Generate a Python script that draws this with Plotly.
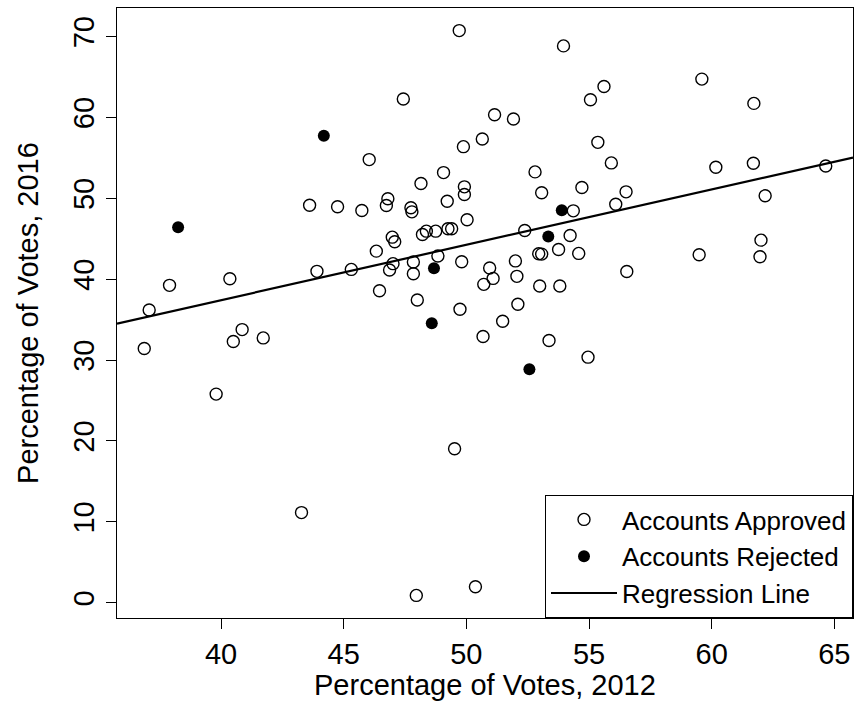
import plotly.graph_objects as go

# Vote shares by county: 2012 vs 2016
approved_2012 = [
    43.61, 44.75, 45.74, 49.71, 53.96, 47.43, 55.61, 55.06, 51.15, 51.92,
    50.65, 49.88, 55.36, 46.04, 55.91, 49.07, 52.80, 48.15, 53.07, 54.71,
    49.92, 49.92, 46.80, 46.74, 47.74, 47.78, 49.22, 54.36, 56.09, 50.03,
    59.60, 61.72, 60.17, 61.70, 64.65, 56.51, 62.18, 37.90, 40.36, 37.07,
    36.87, 43.91, 45.31, 40.86, 40.50, 41.72, 39.80, 48.75, 48.37, 48.21,
    49.25, 49.40, 52.38, 46.98, 47.08, 46.33, 47.01, 46.87, 47.84, 48.84,
    49.81, 47.84, 46.46, 48.00, 50.95, 51.09, 50.71, 52.00, 52.06, 52.95,
    52.99, 52.10, 49.74, 51.48, 50.68, 54.23, 53.07, 53.76, 54.58, 53.81,
    56.54, 53.37, 54.96, 49.52, 43.28, 47.96, 50.37, 59.49, 62.01, 61.97,
]
approved_2016 = [
    49.15, 48.95, 48.50, 70.74, 68.85, 62.28, 63.83, 62.19, 60.34, 59.81,
    57.34, 56.39, 56.92, 54.79, 54.38, 53.18, 53.27, 51.83, 50.68, 51.33,
    51.42, 50.47, 49.94, 49.11, 48.83, 48.33, 49.64, 48.45, 49.27, 47.35,
    64.74, 61.74, 53.84, 54.33, 54.00, 50.80, 50.31, 39.24, 40.06, 36.20,
    31.43, 40.97, 41.21, 33.77, 32.29, 32.74, 25.79, 45.94, 45.94, 45.53,
    46.24, 46.24, 46.03, 45.20, 44.63, 43.47, 41.92, 41.13, 42.12, 42.86,
    42.16, 40.68, 38.58, 37.43, 41.38, 40.10, 39.36, 42.26, 40.35, 43.15,
    39.15, 36.90, 36.28, 34.80, 32.91, 45.41, 43.10, 43.68, 43.19, 39.15,
    40.95, 32.42, 30.36, 19.04, 11.14, 0.90, 1.97, 43.03, 44.83, 42.78,
]
rejected_2012 = [44.19, 38.25, 53.89, 53.34, 48.68, 48.59, 52.57]
rejected_2016 = [57.75, 46.43, 48.53, 45.29, 41.34, 34.55, 28.87]

# Fitted regression line
reg_intercept = 10.05
reg_slope = 0.684

x_ticks = [40, 45, 50, 55, 60, 65]
y_ticks = [0, 10, 20, 30, 40, 50, 60, 70]

FONT = "Liberation Sans, Arial, Helvetica, sans-serif"


def padded_range(values, frac=0.04):
    lo, hi = min(values), max(values)
    pad = (hi - lo) * frac
    return [lo - pad, hi + pad]


all_x = approved_2012 + rejected_2012
all_y = approved_2016 + rejected_2016
x_range = padded_range(all_x)
y_range = padded_range(all_y)

fig = go.Figure()

fig.add_trace(go.Scatter(
    x=approved_2012, y=approved_2016, mode="markers",
    name="Accounts Approved",
    marker=dict(symbol="circle-open", size=12, color="black",
                line=dict(width=1.4, color="black")),
))
fig.add_trace(go.Scatter(
    x=rejected_2012, y=rejected_2016, mode="markers",
    name="Accounts Rejected",
    marker=dict(symbol="circle", size=12, color="black"),
))
fig.add_trace(go.Scatter(
    x=x_range, y=[reg_intercept + reg_slope * v for v in x_range],
    mode="lines", name="Regression Line",
    line=dict(color="black", width=2.2),
))

axis_common = dict(
    showgrid=False, zeroline=False, showline=True, mirror=True,
    linecolor="black", linewidth=1, ticks="outside", ticklen=10,
    tickwidth=1, tickcolor="black",
    tickfont=dict(family=FONT, size=29, color="black"),
)

fig.update_layout(
    width=855, height=721,
    margin=dict(l=117, r=2, t=8, b=103),
    paper_bgcolor="white", plot_bgcolor="white",
    showlegend=True,
    legend=dict(
        x=1, y=0, xanchor="right", yanchor="bottom",
        bgcolor="white", bordercolor="black", borderwidth=1,
        font=dict(family=FONT, size=26, color="black"),
        itemwidth=66, tracegroupgap=0,
    ),
    xaxis=dict(range=x_range, tickvals=x_ticks, **axis_common),
    yaxis=dict(range=y_range, tickvals=y_ticks, tickangle=-90, **axis_common),
    annotations=[
        dict(text="Percentage of Votes, 2012", xref="paper", yref="paper",
             x=0.5, y=-0.11, xanchor="center", yanchor="middle",
             showarrow=False, font=dict(family=FONT, size=29, color="black")),
        dict(text="Percentage of Votes, 2016", xref="paper", yref="paper",
             x=-0.121, y=0.5, xanchor="center", yanchor="middle", textangle=-90,
             showarrow=False, font=dict(family=FONT, size=29, color="black")),
    ],
)

fig.write_html("out.html")
